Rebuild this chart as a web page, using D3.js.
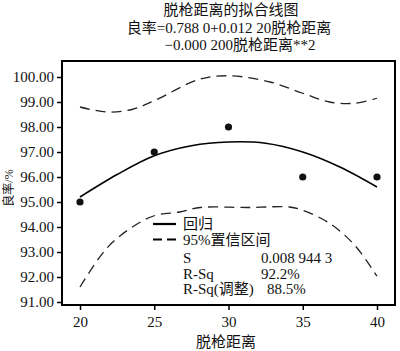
<!DOCTYPE html>
<html><head><meta charset="utf-8">
<script src="https://cdn.jsdelivr.net/npm/d3@7"></script>
<style>html,body{margin:0;padding:0;background:#fff;}svg{display:block;}
text{font-family:"Liberation Serif","Noto Sans CJK SC",serif;fill:#111;}</style>
</head><body>
<svg id="c" width="400" height="351"></svg>
<script>
const titleLines = ["脱枪距离的拟合线图", "良率=0.788 0+0.012 20脱枪距离", "−0.000 200脱枪距离**2"];
const xTicks = [20, 25, 30, 35, 40];
const yTicks = [91, 92, 93, 94, 95, 96, 97, 98, 99, 100];
const pointX = [20, 25, 30, 35, 40];
const pointY = [95, 97, 98, 96, 96];
const fitX = [20, 22.5, 25, 27.5, 30, 32.5, 35, 37.5, 40];
const fitY = [95.2, 96.1, 96.85, 97.25, 97.4, 97.35, 97.0, 96.4, 95.6];
const upperX = [20, 21.8, 23.5, 25, 28, 30, 32.8, 35, 36.8, 38.5, 40];
const upperY = [98.8, 98.6, 98.7, 99.05, 99.9, 100.05, 99.8, 99.35, 99.0, 98.95, 99.15];
const lowerX = [20, 21.8, 23.4, 25, 26.7, 28.1, 31.4, 34.1, 35, 36.8, 38.5, 40];
const lowerY = [91.6, 93.15, 93.95, 94.45, 94.6, 94.78, 94.78, 94.8, 94.67, 94.15, 93.27, 92.03];
const legendLabels = ["回归", "95%置信区间"];
const statNames = ["S", "R-Sq", "R-Sq(调整)"];
const statValues = ["0.008 944 3", "92.2%", "88.5%"];
const xLabel = "脱枪距离";
const yLabel = "良率/%";

const FONT = '"Liberation Serif","Noto Sans CJK SC",serif';
const svg = d3.select("#c");
const x = d3.scaleLinear().domain([20, 40]).range([80, 377]);
const y = d3.scaleLinear().domain([91, 100]).range([302, 77]);
const frame = {l: 62, r: 395, t: 61, b: 305};

// titles
svg.append("text").attr("x", 231).attr("y", 15).attr("text-anchor", "middle").style("font-size", "15px").text(titleLines[0]);
svg.append("text").attr("x", 229).attr("y", 33).attr("text-anchor", "middle").style("font-size", "15px").text(titleLines[1]);
svg.append("text").attr("x", 240).attr("y", 50).attr("text-anchor", "middle").style("font-size", "15px").text(titleLines[2]);

// frame
svg.append("rect").attr("x", frame.l).attr("y", frame.t).attr("width", frame.r - frame.l).attr("height", frame.b - frame.t)
  .attr("fill", "none").attr("stroke", "#000").attr("stroke-width", 2);

// y axis
const yAxis = d3.axisLeft(y).tickValues(yTicks).tickFormat(d3.format(".2f")).tickSize(5).tickPadding(3);
const gy = svg.append("g").attr("transform", `translate(${frame.l},0)`).call(yAxis);
gy.select(".domain").remove();
gy.selectAll("line").attr("stroke", "#000").attr("stroke-width", 1.5);
gy.selectAll("text").style("font-size", "15px").style("font-family", FONT).attr("fill", "#111");

// x axis
const xAxis = d3.axisBottom(x).tickValues(xTicks).tickFormat(d3.format("d")).tickSize(5).tickPadding(6);
const gx = svg.append("g").attr("transform", `translate(0,${frame.b})`).call(xAxis);
gx.select(".domain").remove();
gx.selectAll("line").attr("stroke", "#000").attr("stroke-width", 1.5);
gx.selectAll("text").style("font-size", "15px").style("font-family", FONT).attr("fill", "#111");

// axis labels
svg.append("text").attr("x", 226).attr("y", 347).attr("text-anchor", "middle").style("font-size", "15px").text(xLabel);
svg.append("text").attr("transform", "translate(13,188) rotate(-90)").attr("text-anchor", "middle").style("font-size", "12px").text(yLabel);

// curves
const line = d3.line().x(d => x(d[0])).y(d => y(d[1])).curve(d3.curveCatmullRom.alpha(0.5));
svg.append("path").attr("d", line(upperX.map((v, i) => [v, upperY[i]])))
  .attr("fill", "none").attr("stroke", "#222").attr("stroke-width", 1.3).attr("stroke-dasharray", "10,6");
svg.append("path").attr("d", line(lowerX.map((v, i) => [v, lowerY[i]])))
  .attr("fill", "none").attr("stroke", "#222").attr("stroke-width", 1.3).attr("stroke-dasharray", "10,6");
svg.append("path").attr("d", line(fitX.map((v, i) => [v, fitY[i]])))
  .attr("fill", "none").attr("stroke", "#000").attr("stroke-width", 1.6);

// points
svg.selectAll("circle.pt").data(pointX.map((v, i) => [v, pointY[i]])).enter().append("circle")
  .attr("class", "pt").attr("cx", d => x(d[0])).attr("cy", d => y(d[1])).attr("r", 3.6).attr("fill", "#111");

// legend
const lg = svg.append("g");
const lx = 153, ltx = 183, ly0 = 224, lstep = 15.5;
legendLabels.forEach((lab, i) => {
  const yy = ly0 + i * lstep;
  lg.append("line").attr("x1", lx).attr("x2", lx + 23).attr("y1", yy).attr("y2", yy)
    .attr("stroke", "#000").attr("stroke-width", 2.2).attr("stroke-dasharray", i === 1 ? "9,5" : null);
  lg.append("text").attr("x", ltx).attr("y", yy + 5).style("font-size", "15px").text(lab);
});
statNames.forEach((nm, i) => {
  const yy = ly0 + (i + 2) * lstep + 3;
  lg.append("text").attr("x", ltx).attr("y", yy + 5).style("font-size", "15px").text(nm);
  lg.append("text").attr("x", i === 2 ? 267 : 261).attr("y", yy + 5).style("font-size", "15px").text(statValues[i]);
});
</script>
</body></html>
